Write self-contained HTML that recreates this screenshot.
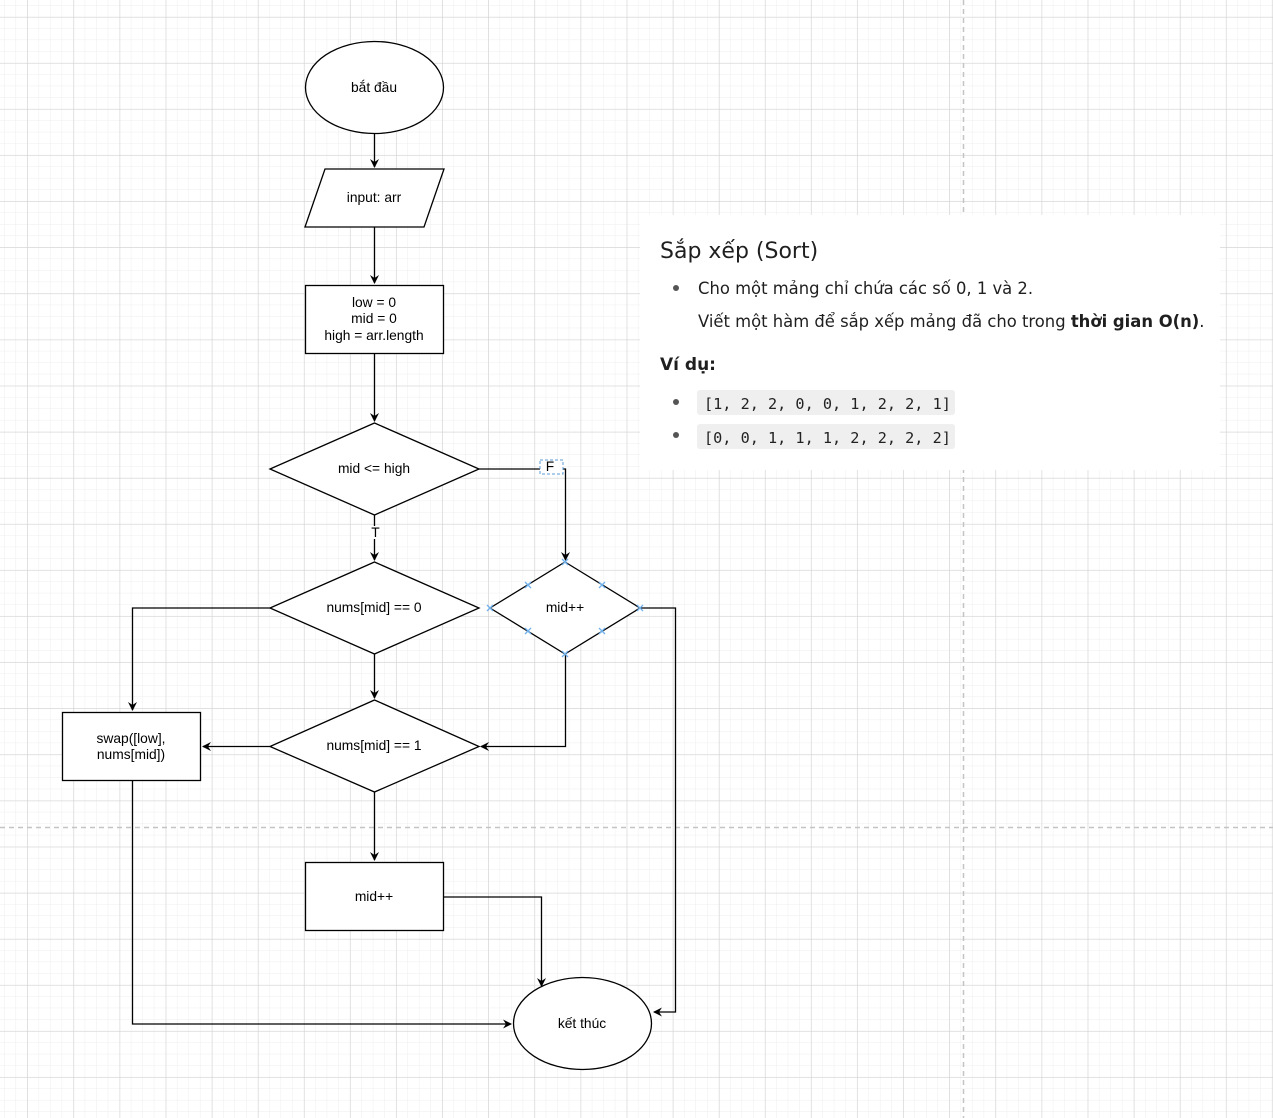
<!DOCTYPE html>
<html><head><meta charset="utf-8"><style>
html,body{margin:0;padding:0;width:1273px;height:1118px;overflow:hidden;background:#fff}
svg{display:block}
.t{font-family:"Liberation Sans",Arial,sans-serif;font-size:13.8px;fill:#000;text-anchor:middle}
.p{font-family:"DejaVu Sans","Liberation Sans",sans-serif;fill:#1f1f1f}
.m{font-family:"DejaVu Sans Mono","Liberation Mono",monospace;font-size:15.2px;fill:#222}
</style></head><body>
<svg width="1273" height="1118" viewBox="0 0 1273 1118" xmlns="http://www.w3.org/2000/svg">
<defs>
<pattern id="minor" x="4.5" y="-6" width="11.525" height="11.525" patternUnits="userSpaceOnUse">
<path d="M11.525 0V11.525M0 11.525H11.525" stroke="#eeeeee" stroke-width="1" fill="none"/>
</pattern>
<pattern id="major" x="27.5" y="17" width="46.1" height="46.1" patternUnits="userSpaceOnUse">
<path d="M0 0V46.1M0 0H46.1" stroke="#d0d0d0" stroke-width="1" fill="none"/>
</pattern>
<marker id="a" markerWidth="10" markerHeight="10" refX="8" refY="5" orient="auto" markerUnits="userSpaceOnUse">
<path d="M0,0.5 L9,5 L0,9.5 L3,5 Z" fill="#000"/>
</marker>
</defs>
<rect width="1273" height="1118" fill="url(#minor)"/>
<rect width="1273" height="1118" fill="url(#major)"/>
<path d="M963.5 0V1118M0 827.5H1273" stroke="#c4c4c4" stroke-width="1.5" stroke-dasharray="5,4" fill="none"/>

<rect x="640" y="215" width="580" height="255" fill="#fff"/>
<text x="660" y="258" class="p" font-size="22">Sắp xếp (Sort)</text>
<circle cx="676" cy="288" r="3" fill="#555"/>
<text x="698" y="294" class="p" font-size="16.4">Cho một mảng chỉ chứa các số 0, 1 và 2.</text>
<text x="698" y="327" class="p" font-size="16.4">Viết một hàm để sắp xếp mảng đã cho trong <tspan font-weight="bold">thời gian O(n)</tspan>.</text>
<text x="660" y="370" class="p" font-size="17" font-weight="bold">Ví dụ:</text>
<circle cx="676" cy="402" r="3" fill="#555"/>
<rect x="697" y="390" width="258" height="25" rx="3" fill="#efefef"/>
<text x="704" y="409" class="m">[1, 2, 2, 0, 0, 1, 2, 2, 1]</text>
<circle cx="676" cy="435" r="3" fill="#555"/>
<rect x="697" y="424" width="258" height="25" rx="3" fill="#efefef"/>
<text x="704" y="443" class="m">[0, 0, 1, 1, 1, 2, 2, 2, 2]</text>

<g stroke="#000" stroke-width="1.3" fill="none">
<path d="M374.5 133V167" marker-end="url(#a)"/>
<path d="M374.5 227V283" marker-end="url(#a)"/>
<path d="M374.5 354V421" marker-end="url(#a)"/>
<path d="M374.5 515V560" marker-end="url(#a)"/>
<path d="M479 469H565.5V560" marker-end="url(#a)"/>
<path d="M270 608H132.5V710" marker-end="url(#a)"/>
<path d="M374.5 654V698" marker-end="url(#a)"/>
<path d="M565.5 654V746.5H481" marker-end="url(#a)"/>
<path d="M270 746.5H203" marker-end="url(#a)"/>
<path d="M374.5 792V860" marker-end="url(#a)"/>
<path d="M640 608H675.5V1012H654" marker-end="url(#a)"/>
<path d="M444 897H541.5V986" marker-end="url(#a)"/>
<path d="M132.5 781V1024H511" marker-end="url(#a)"/>
</g>

<g stroke="#000" stroke-width="1.3" fill="#fff">
<ellipse cx="374.5" cy="87.5" rx="69" ry="46"/>
<path d="M325 169H444L424 227H305Z"/>
<rect x="305.5" y="285.5" width="138" height="68"/>
<path d="M374.5 423L479 469L374.5 515L270 469Z"/>
<path d="M374.5 562L479 608L374.5 654L270 608Z"/>
<path d="M565 562L640 608L565 654L490 608Z"/>
<path d="M374.5 700L479 746.5L374.5 792L270 746.5Z"/>
<rect x="62.5" y="712.5" width="138" height="68"/>
<rect x="305.5" y="862.5" width="138" height="68"/>
<ellipse cx="582.5" cy="1023.5" rx="69" ry="46"/>
</g>

<rect x="370" y="526" width="10" height="13" fill="#fff"/>
<text x="375.5" y="537" class="t" font-size="12">T</text>
<rect x="540" y="460" width="23" height="14" fill="#fff" stroke="#5b9bd5" stroke-dasharray="3,2"/>
<text x="550" y="471" class="t" font-size="12">F</text>
<g stroke="#6fb1ec" stroke-width="1.3">
<path d="M562 559l6 6M568 559l-6 6 M562 651l6 6M568 651l-6 6 M487 605l6 6M493 605l-6 6 M637 605l6 6M643 605l-6 6 M525 582l6 6M531 582l-6 6 M599 582l6 6M605 582l-6 6 M525 628l6 6M531 628l-6 6 M599 628l6 6M605 628l-6 6"/>
</g>

<text x="374" y="92" class="t">bắt đầu</text>
<text x="374" y="202" class="t">input: arr</text>
<text x="374" y="307" class="t">low = 0</text>
<text x="374" y="323" class="t">mid = 0</text>
<text x="374" y="340" class="t">high = arr.length</text>
<text x="374" y="473" class="t">mid &lt;= high</text>
<text x="374" y="612" class="t">nums[mid] == 0</text>
<text x="565" y="612" class="t">mid++</text>
<text x="374" y="750" class="t">nums[mid] == 1</text>
<text x="131" y="743" class="t">swap([low],</text>
<text x="131" y="759" class="t">nums[mid])</text>
<text x="374" y="901" class="t">mid++</text>
<text x="582" y="1028" class="t">kết thúc</text>
</svg>
</body></html>
